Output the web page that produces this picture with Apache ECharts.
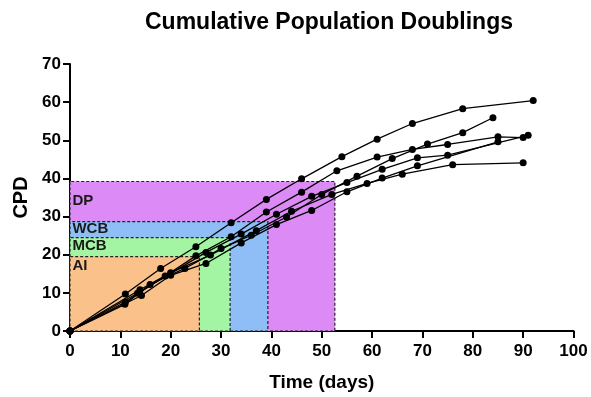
<!DOCTYPE html>
<html><head><meta charset="utf-8">
<script src="https://cdn.jsdelivr.net/npm/echarts@6/dist/echarts.min.js"></script>
<style>html,body{margin:0;padding:0;background:#fff}#c{width:591px;height:397px}</style>
</head><body><div id="c"></div>
<script>
// [day, CPD]
const lineA = [[0,0],[11,9.7],[18,16.4],[25,22.1],[32,28.4],[39,34.5],[46,39.9],[54,45.7],[61,50.3],[68,54.4],[78,58.3],[92,60.4]];
const lineB = [[0,0],[10.9,7.0],[15.9,12.2],[22.8,16.4],[30,21.6],[36,25.1],[43,29.9],[50,35.8],[57,40.6],[64,45.2],[71,49.0],[78,52.0],[84,55.9]];
const lineC = [[0,0],[11,7.6],[18.9,14.4],[25,19.7],[32,24.7],[39,31.2],[46,36.4],[53,42.0],[61,45.6],[68,47.6],[75,48.9],[85,50.9],[90,50.7]];
const lineD = [[0,0],[13.4,9.9],[20,15.1],[27,20.6],[34,25.4],[41,30.6],[48,35.3],[55,38.9],[62,42.4],[69,45.4],[75,46.1],[91,51.3]];
const lineE = [[0,0],[14.2,9.3],[20,14.6],[27,17.7],[34,23.1],[41,27.9],[48,31.6],[55,36.5],[62,40.1],[69,43.3],[85,49.6]];
const lineF = [[0,0],[13.9,10.8],[20,15.3],[27.9,19.9],[37,26.3],[44,31.4],[52,35.8],[59,38.7],[66,41.1],[76,43.6],[90,44.1]];
const allLines = [lineA, lineB, lineC, lineD, lineE, lineF];

// production stages: name, end day, end CPD
const stageNames = ['DP', 'WCB', 'MCB', 'AI'];
const stageDays  = [52.6, 39.3, 31.8, 25.7];
const stageCPD   = [39.2, 28.7, 24.5, 19.5];
const stageColors = ['#DC8AF5', '#8FBEF6', '#A3F5A3', '#FBC18B'];
const stageLabelOffset = [12, 0, 1, 2];

const xTicks = {min: 0, max: 100, interval: 10};
const yTicks = {min: 0, max: 70, interval: 10};

const FONT = 'Liberation Sans';
const chart = echarts.init(document.getElementById('c'), null, {renderer: 'canvas'});

const areaData = stageNames.map((n, i) => [
  {name: n, coord: [0, 0],
   itemStyle: {color: stageColors[i], borderColor: '#222', borderWidth: 1.2, borderType: [3, 2]},
   label: {show: true, position: [3, stageLabelOffset[i]], formatter: n, color: '#1a1a1a', fontWeight: 'bold', fontSize: 15, fontFamily: FONT}},
  {coord: [stageDays[i], stageCPD[i]]}
]);

const series = [{
  type: 'line', data: [], silent: true, z: 1,
  markArea: {silent: true, data: areaData}
}].concat(allLines.map(d => ({
  type: 'line', data: d, z: 3,
  symbol: 'circle', symbolSize: 7,
  itemStyle: {color: '#000'},
  lineStyle: {color: '#000', width: 1.3},
  emphasis: {disabled: true}
})));

const axisCommon = {
  type: 'value', splitLine: {show: false},
  axisLine: {show: true, lineStyle: {color: '#000', width: 2}},
  axisTick: {show: true, length: 7, lineStyle: {color: '#000', width: 2}},
  axisLabel: {color: '#000', fontWeight: 'bold', fontSize: 17, fontFamily: FONT},
  nameLocation: 'middle',
  nameTextStyle: {color: '#000', fontWeight: 'bold', fontSize: 19, fontFamily: FONT}
};

chart.setOption({
  animation: false,
  backgroundColor: '#fff',
  title: {text: 'Cumulative Population Doublings', left: 140, top: 6,
          textStyle: {color: '#000', fontWeight: 'bold', fontSize: 23, fontFamily: FONT}},
  grid: {left: 70, right: 17.5, top: 64, bottom: 66, containLabel: false},
  xAxis: Object.assign({}, axisCommon, xTicks, {name: 'Time (days)', nameGap: 42,
    axisLabel: Object.assign({}, axisCommon.axisLabel, {margin: 12})}),
  yAxis: Object.assign({}, axisCommon, yTicks, {name: 'CPD', nameGap: 38, nameRotate: 90,
    nameTextStyle: Object.assign({}, axisCommon.nameTextStyle, {fontSize: 20}),
    axisLabel: Object.assign({}, axisCommon.axisLabel, {margin: 9})}),
  series: series
});
</script></body></html>
